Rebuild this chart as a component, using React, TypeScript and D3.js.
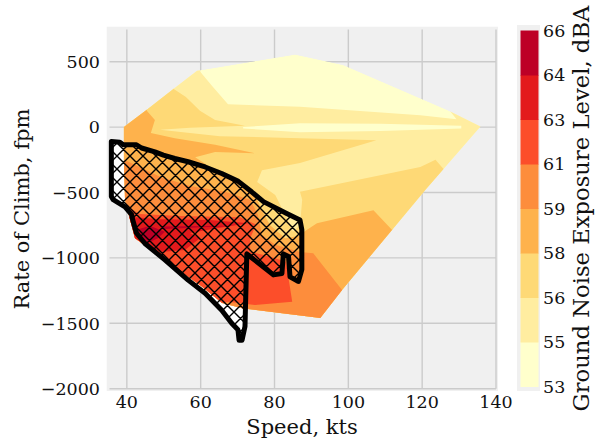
import React from 'react';
import * as d3 from 'd3';

type Pt = [number, number];

// axis ticks
const speedTicks = [40, 60, 80, 100, 120, 140];
const rocTicks = [500, 0, -500, -1000, -1500, -2000];

// contour levels (dBA) and band colours
const levels = [53, 55, 56, 58, 59, 61, 63, 64, 66];
const bandColors = d3.schemeYlOrRd[9].slice(0, 8);

// outer edge of the data (speed kts, rate of climb fpm)
const coverage: Pt[] = [
  [39.2, 0], [45.3, 130], [52.5, 290], [59.0, 430], [85.6, 555], [98.6, 475],
  [126.8, 130], [135.8, 5], [120.9, -480], [98.3, -1245], [92.4, -1460],
  [71.2, -1385], [65.8, -1345], [60.4, -1220], [52.2, -1055], [42.2, -850],
  [40.5, -670], [39.5, -555], [39.2, -250],
];

// regions at or above each level (clipped to coverage), holes by even-odd
const above55: Pt[][] = [
  [[30, -2100], [30, 0], [58.5, 500], [60.1, 415], [63.1, 315], [67.4, 175], [86.9, 155],
   [119.5, 90], [129.3, 60], [126.8, 150], [150, 150], [150, -2100]],
  [[71.5, 0], [86.9, 30], [108.7, 25], [130.6, 10], [130.6, -10], [108.7, -30], [86.9, -40], [71.5, -10]],
];
const above56: Pt[][] = [
  [[30, -2100], [30, 0], [51.7, 360], [52.8, 290], [56.0, 230], [59.8, 125], [63.9, 55], [72.0, 10],
   [57.1, -5], [49.0, -20], [65.2, -70], [86.9, -85], [107.6, -100], [86.9, -275], [76.6, -330],
   [75.3, -420], [80.2, -520], [82.9, -670], [85.0, -800], [86.9, -750], [87.5, -555], [86.9, -495],
   [119.5, -305], [123.6, -250], [125.8, -320], [150, -320], [150, -2100]],
];
const above58: Pt[][] = [
  [[30, -2100], [30, 200], [45.2, 165], [45.4, 125], [47.6, 55], [46.5, -45], [53.0, -85], [63.9, -135],
   [74.7, -200], [63.9, -190], [58.5, -230], [63.9, -330], [70.7, -425], [74.7, -520], [76.6, -635],
   [78.8, -750], [82.9, -850], [86.9, -830], [88.3, -795], [91.5, -735], [106.8, -635], [111.8, -785],
   [130, -785], [130, -2100]],
];
const above59: Pt[][] = [
  [[30, -2100], [30, -250], [39.2, -250], [43.5, -305], [49.0, -380], [57.1, -450], [66.6, -495],
   [73.4, -555], [75.5, -670], [76.6, -825], [80.2, -900], [86.9, -955], [90.5, -965], [98.3, -1245],
   [120, -1245], [120, -2100]],
];
const above61: Pt[][] = [
  [[30, -2100], [30, -580], [39.5, -580], [40.3, -610], [43.5, -665], [54.4, -680], [70.7, -690],
   [75.0, -745], [73.4, -850], [73.4, -955], [78.3, -985], [83.1, -1030], [84.8, -1335], [74.7, -1360],
   [67.4, -1335], [60, -1400]],
];
const above63: Pt[][] = [
  [[38, -680], [49.0, -705], [62.5, -710], [73.0, -735], [65.2, -770], [57.1, -810], [59.8, -850],
   [55.7, -940], [49.0, -955], [42, -850], [40, -800], [38, -725]],
];
const above64: Pt[][] = [
  [[42.7, -785], [46.2, -755], [50.3, -800], [48.4, -850], [44.9, -895], [43.3, -850]],
  [[49.0, -760], [69.3, -755], [50.3, -780]],
];

// hatched boundary
const hatchEdge: Pt[] = [
  [35.8, -110], [38.1, -115], [39.0, -135], [42.6, -135], [44.0, -160], [47.6, -190], [49.9, -215],
  [53.0, -240], [56.6, -265], [61.2, -305], [65.7, -355], [70.2, -415], [73.8, -495], [77.0, -570],
  [83.3, -660], [86.9, -710], [87.4, -785], [87.4, -1090], [86.5, -1180], [84.2, -1145], [83.8, -990],
  [82.4, -970], [82.0, -1120], [79.7, -1130], [73.4, -990], [72.5, -970], [72.0, -1525], [71.2, -1630],
  [70.4, -1630], [70.1, -1550], [68.4, -1500], [65.7, -1400], [61.2, -1270], [56.6, -1170],
  [50.3, -1015], [44.9, -890], [42.6, -810], [41.6, -710], [41.3, -670], [39.5, -610], [36.3, -555],
  [35.8, -530],
];

const width = 602;
const height = 443;
const font = 'DejaVu Serif';
const hs = 13; // hatch cell

export default function App() {
  const x = d3.scaleLinear().domain([35.3, 140]).range([109.5, 496]);
  const y = d3.scaleLinear().domain([-2000, 746]).range([388.7, 29.5]);
  const line = d3.line<Pt>().x(d => x(d[0])).y(d => y(d[1]));
  const ring = (pts: Pt[]) => line(pts) + 'Z';
  const rings = (list: Pt[][]) => list.map(ring).join(' ');

  const layers = [above55, above56, above58, above59, above61, above63, above64];

  // colorbar
  const cb = d3.scaleLinear().domain([0, levels.length - 1]).range([386.5, 30.5]);

  return (
    <svg width={width} height={height} style={{position: 'absolute', left: 0, top: 0}}
         fontFamily={font}>
      <defs>
        <clipPath id="cover">
          <path d={ring(coverage)} />
        </clipPath>
        <pattern id="xx" patternUnits="userSpaceOnUse" width={hs} height={hs}>
          <path d={`M0,0L${hs},${hs}M${hs},0L0,${hs}M-2,${hs - 2}L2,${hs + 2}M${hs - 2},-2L${hs + 2},2` +
                   `M-2,2L2,-2M${hs - 2},${hs + 2}L${hs + 2},${hs - 2}`}
                stroke="#000" strokeWidth={1.4} />
        </pattern>
      </defs>
      <rect x={0} y={0} width={width} height={height} fill="#fff" />
      <rect x={106.7} y={26.7} width={391.3} height={364.3} fill="#f0f0f0" />
      {speedTicks.map(t => (
        <line key={'gx' + t} x1={x(t)} x2={x(t)} y1={29.5} y2={388.7} stroke="#cbcbcb" strokeWidth={1.4} />
      ))}
      {rocTicks.map(t => (
        <line key={'gy' + t} x1={109.5} x2={496} y1={y(t)} y2={y(t)} stroke="#cbcbcb" strokeWidth={1.4} />
      ))}

      <path d={ring(hatchEdge)} fill="#fff" />

      <g clipPath="url(#cover)">
        <path d={ring(coverage)} fill={bandColors[0]} />
        {layers.map((l, i) => (
          <path key={i} d={rings(l)} fill={bandColors[i + 1]} fillRule="evenodd" />
        ))}
      </g>

      <path d={ring(hatchEdge)} fill="url(#xx)" stroke="#000" strokeWidth={5} strokeLinejoin="round" />

      {speedTicks.map(t => (
        <text key={'tx' + t} x={x(t)} y={408} fontSize={17.5} textAnchor="middle" fill="#111">{t}</text>
      ))}
      {rocTicks.map(t => (
        <text key={'ty' + t} x={100} y={y(t)} dy="0.36em" fontSize={17.5} textAnchor="end" fill="#111">
          {t < 0 ? '\u2212' + Math.abs(t) : t}
        </text>
      ))}
      <text x={302} y={433.5} fontSize={21} textAnchor="middle" fill="#111">Speed, kts</text>
      <text transform={`translate(28.5,${(29.5 + 388.7) / 2}) rotate(-90)`} fontSize={21}
            textAnchor="middle" fill="#111">Rate of Climb, fpm</text>

      <rect x={517} y={25} width={23} height={366} fill="#f0f0f0" />
      {bandColors.map((c, i) => (
        <rect key={'cb' + i} x={520.5} y={cb(i + 1)} width={18} height={cb(i) - cb(i + 1) + 0.5} fill={c} />
      ))}
      {levels.map((v, i) => (
        <text key={'cl' + v} x={543} y={cb(i)} dy="0.36em" fontSize={17.5} fill="#111">{v}</text>
      ))}
      <text transform={`translate(589,${(30.5 + 386.5) / 2}) rotate(-90)`} fontSize={22.7}
            textAnchor="middle" fill="#111">Ground Noise Exposure Level, dBA</text>
    </svg>
  );
}
